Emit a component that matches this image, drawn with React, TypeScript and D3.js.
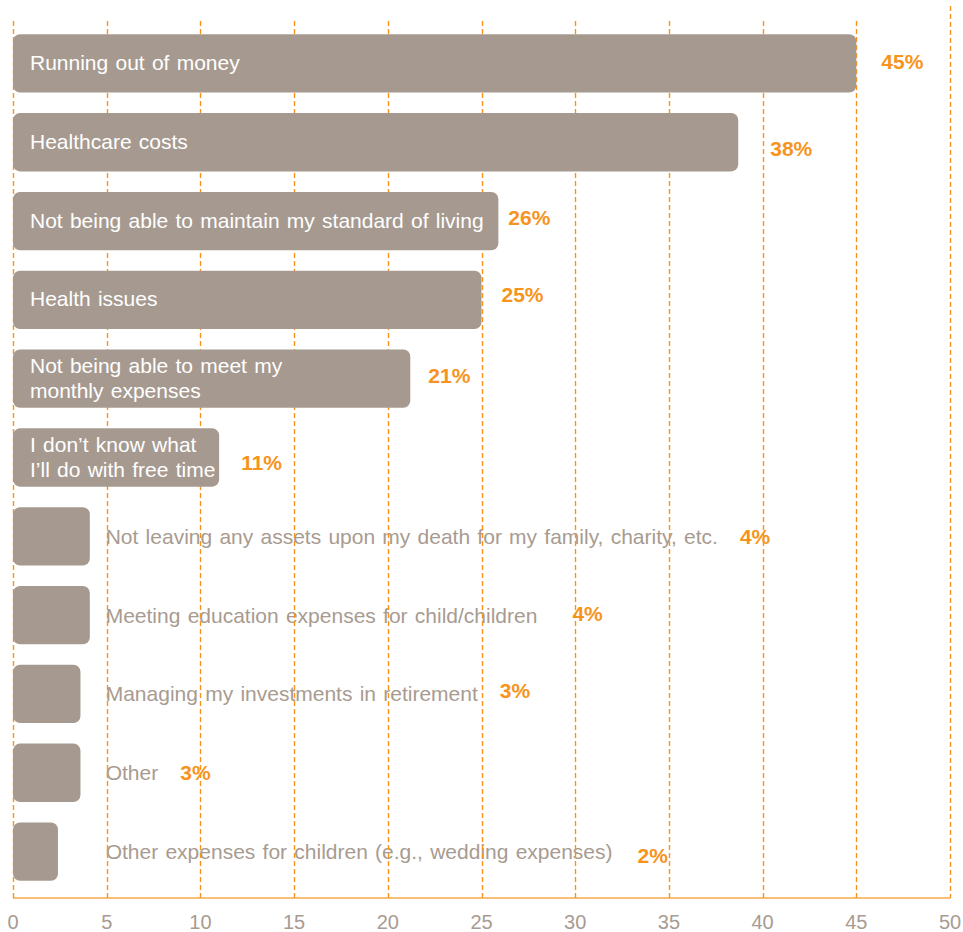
import React, { useEffect, useRef } from "react";
import * as d3 from "d3";

const categories = [
  "Running out of money",
  "Healthcare costs",
  "Not being able to maintain my standard of living",
  "Health issues",
  "Not being able to meet my\nmonthly expenses",
  "I don’t know what\nI’ll do with free time",
  "Not leaving any assets upon my death for my family, charity, etc.",
  "Meeting education expenses for child/children",
  "Managing my investments in retirement",
  "Other",
  "Other expenses for children (e.g., wedding expenses)",
];
const values = [45, 38.7, 25.9, 25, 21.2, 11, 4.1, 4.1, 3.6, 3.6, 2.4];
const valueLabels = ["45%", "38%", "26%", "25%", "21%", "11%", "4%", "4%", "3%", "3%", "2%"];
const ticks = [0, 5, 10, 15, 20, 25, 30, 35, 40, 45, 50];

// small per-label placement nudges (layout only) [dx, dy]
const labelNudge: [number, number][] = [
  [5, -1], [12, 7], [-10, -3], [0, -5], [-2, -3], [2, 5],
  [2, 1], [15, -1], [2, -3], [2, 0], [5, 4],
];

const W = 963;
const H = 932;
const BAR = "#a69a90";
const ORANGE = "#f7941d";
const GREY = "#a89b91";
const FONT = "'Liberation Sans', Arial, Helvetica, sans-serif";
const WS = 1.4;

export default function App() {
  const ref = useRef<SVGSVGElement | null>(null);

  useEffect(() => {
    const svg = d3.select(ref.current);
    svg.selectAll("*").remove();

    const x = d3.scaleLinear().domain([0, 50]).range([13, 950]);
    const y = d3
      .scaleBand<number>()
      .domain(d3.range(categories.length))
      .range([24, 891])
      .paddingInner(0.26)
      .paddingOuter(0.13);
    const axisY = 898;
    const rows = categories.map((c, i) => ({ c, v: values[i], l: valueLabels[i], i }));
    const inside = (v: number) => v >= 10;
    const gx = (t: number) => Math.round(x(t)) + 0.5;

    // outside category texts
    const outside = svg
      .append("g")
      .selectAll("text")
      .data(rows.filter((r) => !inside(r.v)))
      .join("text")
      .attr("x", x(5) - 1)
      .attr("y", (r) => (y(r.i) as number) + y.bandwidth() / 2 + 7.5)
      .attr("fill", GREY)
      .attr("font-family", FONT)
      .attr("font-size", 21)
      .attr("word-spacing", WS)
      .text((r) => r.c);

    // gridlines
    svg
      .append("g")
      .selectAll("line")
      .data(ticks)
      .join("line")
      .attr("x1", (t) => gx(t))
      .attr("x2", (t) => gx(t))
      .attr("y1", (t) => (t === 50 ? 6 : 21))
      .attr("y2", axisY)
      .attr("stroke", ORANGE)
      .attr("stroke-width", 1.4)
      .attr("stroke-dasharray", "5,3");

    // axis line
    svg
      .append("line")
      .attr("x1", x(0))
      .attr("x2", gx(50))
      .attr("y1", axisY)
      .attr("y2", axisY)
      .attr("stroke", ORANGE)
      .attr("stroke-opacity", 0.8)
      .attr("stroke-width", 1.5);

    // tick labels
    svg
      .append("g")
      .selectAll("text")
      .data(ticks)
      .join("text")
      .attr("x", (t) => x(t))
      .attr("y", 929)
      .attr("text-anchor", "middle")
      .attr("fill", GREY)
      .attr("font-family", FONT)
      .attr("font-size", 20)
      .text((t) => String(t));

    // bars
    svg
      .append("g")
      .selectAll("rect")
      .data(rows)
      .join("rect")
      .attr("x", x(0))
      .attr("y", (r) => y(r.i) as number)
      .attr("width", (r) => x(r.v) - x(0))
      .attr("height", y.bandwidth())
      .attr("rx", 7)
      .attr("ry", 7)
      .attr("fill", BAR);

    // inside texts
    const ins = svg
      .append("g")
      .selectAll("text")
      .data(rows.filter((r) => inside(r.v)))
      .join("text")
      .attr("fill", "#ffffff")
      .attr("font-family", FONT)
      .attr("font-size", 21)
      .attr("word-spacing", WS);
    ins.each(function (r) {
      const lines = r.c.split("\n");
      const cy = (y(r.i) as number) + y.bandwidth() / 2;
      const first = cy + 6.5 - ((lines.length - 1) * 25) / 2;
      d3.select(this)
        .selectAll("tspan")
        .data(lines)
        .join("tspan")
        .attr("x", x(0) + 17)
        .attr("y", (_, k) => first + k * 25)
        .text((d) => d);
    });

    // value labels
    const outEnds = new Map<number, number>();
    outside.each(function (r) {
      const n = this as SVGTextElement;
      outEnds.set(r.i, x(5) - 1 + n.getComputedTextLength());
    });
    svg
      .append("g")
      .selectAll("text")
      .data(rows)
      .join("text")
      .attr(
        "x",
        (r) =>
          (inside(r.v) ? x(r.v) : (outEnds.get(r.i) as number)) + 20 + labelNudge[r.i][0]
      )
      .attr("y", (r) => (y(r.i) as number) + y.bandwidth() / 2 + 7 + labelNudge[r.i][1])
      .attr("fill", ORANGE)
      .attr("font-family", FONT)
      .attr("font-size", 21)
      .attr("font-weight", "bold")
      .text((r) => r.l);
  }, []);

  return (
    <svg
      ref={ref}
      width={W}
      height={H}
      style={{ position: "absolute", left: 0, top: 0, background: "#fff" }}
    />
  );
}
